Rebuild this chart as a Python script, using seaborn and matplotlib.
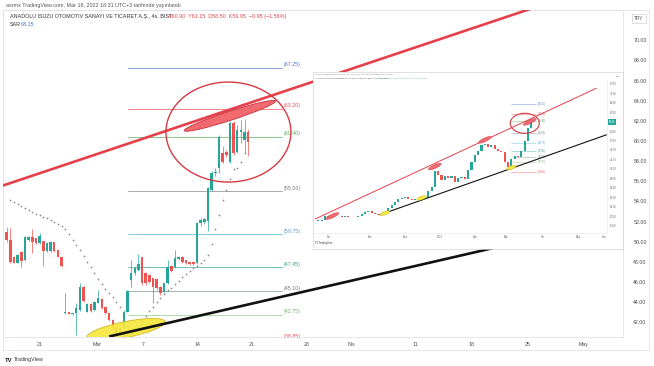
import numpy as np
import matplotlib
matplotlib.use("Agg")
import matplotlib.pyplot as plt
import seaborn as sns
from matplotlib.patches import Ellipse, Rectangle
from matplotlib.transforms import Affine2D, ScaledTranslation

sns.set_theme(style="white")
plt.rcParams['font.family'] = ['Liberation Sans', 'DejaVu Sans']

# ---------------- main 4h chart data ----------------
opens = [51.00, 50.20, 48.50, 47.92, 49.00, 48.20, 50.17, 50.50, 50.34, 49.91,
         50.07, 49.11, 49.11, 49.97, 49.20, 48.45, 42.90, 42.99, 42.82, 42.89,
         43.22, 45.47, 43.06, 43.82, 43.22, 43.95, 44.28, 43.55, 42.89, 42.23,
         41.56, 41.00, 41.56, 43.06, 46.19, 46.85, 47.20, 48.45, 46.85, 46.69,
         46.36, 46.26, 45.54, 45.04, 45.87, 47.59, 47.46, 48.25, 48.52, 48.18,
         47.99, 47.99, 47.92, 51.83, 51.96, 52.10, 55.14, 56.79, 57.29, 58.80,
         58.90, 57.95, 61.76, 58.94, 60.90, 60.10, 60.90]
highs = [51.50, 51.33, 48.60, 48.80, 49.10, 50.60, 50.60, 51.23, 50.40, 50.90,
         50.10, 49.90, 50.10, 50.00, 49.20, 48.50, 44.88, 43.00, 42.95, 43.88,
         45.87, 45.60, 43.90, 43.90, 44.10, 45.20, 44.40, 43.60, 42.90, 42.30,
         41.60, 41.50, 43.20, 45.20, 48.18, 47.50, 48.78, 48.50, 47.00, 46.80,
         46.40, 46.30, 45.60, 45.90, 48.18, 47.70, 49.18, 48.60, 48.60, 48.20,
         48.00, 48.00, 52.00, 52.40, 52.40, 55.40, 57.00, 57.30, 60.60, 59.50,
         59.10, 62.00, 62.00, 61.60, 62.10, 62.20, 61.15]
lows = [50.00, 47.85, 47.85, 47.85, 47.46, 48.10, 50.10, 48.85, 49.80, 49.80,
        47.59, 49.00, 49.00, 49.00, 48.45, 47.46, 42.85, 42.80, 42.75, 40.74,
        43.10, 44.00, 43.00, 43.00, 43.10, 43.90, 43.30, 42.80, 42.10, 41.30,
        40.90, 40.60, 41.30, 43.00, 45.50, 46.70, 47.10, 45.70, 45.70, 45.90,
        43.88, 45.20, 44.70, 44.90, 45.80, 47.00, 47.40, 48.20, 47.90, 47.80,
        47.70, 47.70, 47.80, 51.60, 51.80, 51.10, 55.00, 56.50, 56.80, 57.80,
        58.40, 57.80, 58.60, 58.80, 59.80, 58.80, 58.50]
closes = [50.17, 48.02, 47.92, 48.68, 48.12, 50.44, 50.44, 50.00, 49.91, 50.57,
          49.11, 49.84, 50.00, 49.08, 48.52, 47.59, 42.99, 42.82, 42.88, 43.39,
          45.47, 44.15, 43.82, 43.12, 44.05, 44.38, 43.39, 42.89, 42.23, 41.40,
          41.07, 41.40, 43.06, 45.14, 46.85, 47.36, 47.79, 45.87, 45.87, 46.03,
          45.54, 45.37, 44.88, 45.87, 47.52, 47.13, 48.35, 48.45, 47.99, 47.85,
          47.79, 47.79, 51.83, 52.16, 52.23, 55.30, 56.79, 56.95, 60.43, 57.95,
          58.60, 61.76, 58.78, 61.10, 61.10, 60.90, 59.95]
sar = [np.nan, 54.1, 53.9, 53.7, 53.5, 53.35, 53.15, 52.98, 52.8, 52.65,
       52.5, 52.32, 52.15, 51.95, 51.78, 51.6, 51.3, 50.8, 50.2, 49.7,
       49.2, 48.6, 48.0, 47.5, 46.9, 46.3, 45.8, 45.3, 44.9, 44.5,
       44.0, 43.5, 40.6, 40.7, 40.85, 41.2, 41.6, 42.1, 42.62, 43.1,
       43.55, 44.0, 44.4, 44.8, 45.2, 45.4, 45.77, 46.1, 46.45, 46.8,
       47.1, 47.4, 47.6, 47.85, 48.2, 48.7, 49.8, 51.3, 52.7, 54.1,
       55.1, 56.2, 57.2, 57.3, 57.95, 58.84, 63.15]
bars = list(range(len(closes)))

xtick_pos = [9.1, 24.6, 37.2, 52.1, 66.9, 82.0, 94.2, 111.8, 126.9, 142.3, 157.5]
xtick_labels = ["21", "Mar", "7", "14", "21", "28", "Nis", "11", "18", "25", "May"]
ytick_vals = list(range(42, 71, 2))

fib_prices = [67.25, 63.20, 60.40, 55.00, 50.75, 47.45, 45.10, 42.75]
fib_labels = ["(67.25)", "(63.20)", "(60.40)", "(55.00)", "(50.75)", "(47.45)", "(45.10)", "(42.75)"]
fib_colors = ["#6f8fdc", "#ef6f77", "#76bf78", "#9a9ca3", "#6cc6da", "#5cb7a8", "#93a79a", "#a3d3a0"]
fib_text_colors = ["#4f6fcc", "#e2525b", "#58a85b", "#7b7e86", "#5a9fd0", "#3b9c8c", "#6f7f74", "#72b46e"]
fib_bar_range = [33.1, 75.2]

upper_bar = [-1.0, 150.0]
upper_price = [55.58, 73.96]
lower_bar = [28.0, 132.9]
lower_price = [40.59, 49.37]

# ---------------- inset daily chart data ----------------
inset_close = [17.9, 18.0, 18.4, 20.3, 19.6, 19.8, 19.5, 19.7, 19.6, 19.8,
               19.7, 19.5, 19.8, 20.2, 21.0, 21.6, 22.3, 21.5, 20.9, 20.7,
               21.3, 21.6, 23.5, 24.8, 26.0, 27.2, 27.6, 28.2, 27.3, 26.8,
               27.1, 26.7, 27.2, 27.6, 30.5, 32.5, 39.0, 37.5, 35.5, 36.8,
               36.0, 37.0, 34.6, 36.2, 36.5, 35.8, 39.5, 43.0, 45.8, 47.5,
               50.2, 50.6, 49.4, 50.0, 48.3, 47.5, 47.0, 43.0, 41.0, 44.0,
               45.4, 45.0, 47.6, 52.0, 57.5, 59.9]
inset_open = [17.8] + inset_close[:-1]
inset_idx = list(range(len(inset_close)))
inset_xtick_pos = [4, 16.5, 27, 37.5, 48, 57.5, 68.5, 79, 87]
inset_xtick_labels = ["Eki", "Kas", "Ara", "2022", "Şub", "Mar", "Nis", "May", "Haz"]
inset_ytick_vals = [16, 20, 24, 28, 32, 36, 40, 44, 48, 52, 56, 64, 68, 72, 76]
inset_upper_idx = [0.0, 84.5]
inset_upper_price = [18.8, 74.1]
inset_lower_idx = [19.5, 87.5]
inset_lower_price = [20.6, 54.4]
inset_fib_range = [59.0, 66.5]
inset_red_marks = [(5.2, 20.1), (36.0, 41.0), (51.0, 52.3), (64.5, 59.9)]
inset_yellow_marks = [(21.0, 21.3), (32.0, 27.7), (59.0, 40.6)]

# ---------------- figure ----------------
W, H = 654, 366
fig = plt.figure(figsize=(W / 100, H / 100), dpi=100)
fig.patch.set_facecolor("white")


def box(x0, y0, x1, y1):
    return [x0 / W, 1 - y1 / H, (x1 - x0) / W, (y1 - y0) / H]


def ftext(x, y, s, **kw):
    fig.text(x / W, 1 - y / H, s, **kw)


def px_ellipse(a, cx, cy, w, h, angle, **kw):
    tr = Affine2D() + ScaledTranslation(cx, cy, a.transData)
    e = Ellipse((0, 0), w, h, angle=angle, transform=tr, **kw)
    a.add_patch(e)
    return e


def candles(a, x, o, h, l, c, width, wick_lw, min_h, up="#26a69a", dn="#ef5350", z=3):
    x = np.asarray(x, float); o = np.asarray(o); h = np.asarray(h)
    l = np.asarray(l); c = np.asarray(c)
    cols = np.where(c >= o, up, dn)
    if wick_lw > 0:
        a.vlines(x, l, h, colors=cols, lw=wick_lw, zorder=z)
    a.bar(x, np.maximum(np.abs(c - o), min_h), bottom=np.minimum(o, c),
          width=width, color=cols, linewidth=0, zorder=z + 0.1)


GRID = "#e0e3eb"
# outer panel
bg = fig.add_axes(box(3, 10, 649, 350))
bg.set_xticks([]); bg.set_yticks([])
for s in bg.spines.values():
    s.set_color(GRID); s.set_linewidth(0.6)
bg.set_zorder(0)

ax = fig.add_axes(box(3, 10, 623, 337))
ax.set_zorder(1)
ax.set_facecolor("none")
ax.set_xlim(-1.0, 168.4)
ax.set_ylim(40.54, 73.01)
for s in ax.spines.values():
    s.set_color(GRID); s.set_linewidth(0.6)

# fib levels
for p, lab, col, tcol in zip(fib_prices, fib_labels, fib_colors, fib_text_colors):
    ax.plot(fib_bar_range, [p, p], color=col, lw=0.7, alpha=0.85, zorder=2)
    ax.text(75.7, p + 0.3, lab, color=tcol, fontsize=3.8, va="center", ha="left", zorder=2)
ax.text(75.7, 40.62, "(38.85)", color="#e2525b", fontsize=3.8, va="center", ha="left",
        clip_on=False, zorder=2)

candles(ax, bars, opens, highs, lows, closes, width=0.68, wick_lw=0.5, min_h=0.06)
sns.scatterplot(x=bars, y=sar, ax=ax, s=1.6, color="#8c8c8c", linewidth=0,
                legend=False, zorder=4)

# drawings
ax.plot(upper_bar, upper_price, color="#e5404b", lw=1.9, solid_capstyle="butt", zorder=5)
px_ellipse(ax, 32.6, 41.28, 80, 16, 11.4, facecolor="#f6e63e", edgecolor="#c9b51c",
           lw=0.6, alpha=0.92, zorder=5)
ax.plot(lower_bar, lower_price, color="#111111", lw=1.9, solid_capstyle="butt", zorder=6)
px_ellipse(ax, 60.6, 60.89, 125, 100, 0, facecolor="none", edgecolor="#d63a42",
           lw=1.0, zorder=6)
px_ellipse(ax, 61.0, 62.5, 96, 9, 18.0, facecolor="#f06a70", edgecolor="#c8303a",
           lw=0.6, zorder=6)

ax.yaxis.tick_right()
ax.set_yticks(ytick_vals, [f"{v:.2f}" for v in ytick_vals])
ax.tick_params(axis="y", length=0, pad=7.5, labelsize=3.8, labelcolor="#4a4a4a")
ax.set_xticks(xtick_pos, xtick_labels)
ax.tick_params(axis="x", length=0, pad=3.6, labelsize=3.8, labelcolor="#4a4a4a")
ax.grid(False)

# header texts
ftext(5.7, 5.5, "asrmx TradingView.com, Mar 18, 2022 18:31 UTC+3 tarihinde yayınlandı",
      fontsize=3.9, color="#555555", va="center")
ftext(10, 16.7, "ANADOLU ISUZU OTOMOTIV SANAYI VE TICARET A.Ş., 4s, BIST",
      fontsize=3.9, color="#333333", va="center")
ftext(168, 16.7, "A60.90  Y61.15  D58.50  K59.95  −0.95 (−1.56%)",
      fontsize=3.9, color="#e0474c", va="center")
ftext(10, 24.5, "SAR", fontsize=3.9, color="#333333", va="center")
ftext(20.7, 24.5, "63.15", fontsize=3.9, color="#3a6fd8", va="center")
# TRY box
fig.add_artist(Rectangle((632 / W, 1 - 23 / H), 14 / W, 9 / H, transform=fig.transFigure,
                         facecolor="white", edgecolor="#cfcfcf", lw=0.5))
ftext(639, 18.5, "TRY", fontsize=3.4, color="#555555", va="center", ha="center")
# logo
ftext(5, 360, "TV", fontsize=4.2, color="#131722", va="center", weight="bold")
ftext(13.5, 360, "TradingView", fontsize=3.9, color="#333333", va="center")

# ---------------- inset (pasted daily chart) ----------------
ibg = fig.add_axes(box(313, 72, 623, 249))
ibg.set_zorder(5)
ibg.set_facecolor("white")
ibg.set_xticks([]); ibg.set_yticks([])
for s in ibg.spines.values():
    s.set_color("#d4d4d4"); s.set_linewidth(0.5)

iax = fig.add_axes(box(313, 80, 607, 233))
iax.set_zorder(6)
iax.set_facecolor("none")
iax.set_xlim(-0.6, 87.7)
iax.set_ylim(12.9, 77.6)
for k, s in iax.spines.items():
    s.set_color("#e3e3e3"); s.set_linewidth(0.4)
iax.spines["left"].set_visible(False)
iax.spines["top"].set_visible(False)

for p, lab, col, tcol in zip(fib_prices + [38.85], fib_labels + ["(38.85)"],
                             fib_colors + ["#ef6f77"], fib_text_colors + ["#e2525b"]):
    iax.plot(inset_fib_range, [p, p], color=col, lw=0.4, alpha=0.85, zorder=2)
    iax.text(inset_fib_range[1] + 0.5, p, lab, color=tcol, fontsize=1.8, va="center", zorder=2)

candles(iax, inset_idx, inset_open, inset_close, inset_open, inset_close,
        width=0.62, wick_lw=0, min_h=0.3)
iax.plot(inset_upper_idx, inset_upper_price, color="#e5404b", lw=0.7, zorder=5)
iax.plot(inset_lower_idx, inset_lower_price, color="#111111", lw=0.8, zorder=5)
for (ix, ip) in inset_red_marks:
    px_ellipse(iax, ix, ip, 14, 3.6, 25, facecolor="#f06a70", edgecolor="#c8303a", lw=0.3, zorder=6)
for (ix, ip) in inset_yellow_marks:
    px_ellipse(iax, ix, ip, 10, 3.4, 19, facecolor="#f6e63e", edgecolor="#c9b51c", lw=0.3, zorder=6)
px_ellipse(iax, 63.0, 59.3, 29, 20, 0, facecolor="none", edgecolor="#d63a42", lw=0.8, zorder=7)

iax.yaxis.tick_right()
iax.set_yticks(inset_ytick_vals, [f"{v:.2f}" for v in inset_ytick_vals])
iax.tick_params(axis="y", length=0, pad=2.0, labelsize=1.9, labelcolor="#666666")
iax.set_xticks(inset_xtick_pos, inset_xtick_labels)
iax.tick_params(axis="x", length=0, pad=1.5, labelsize=1.9, labelcolor="#666666")
iax.grid(False)

# inset last price tag
iax.text(1.005, (59.95 - 12.9) / (77.6 - 12.9), "59.95", transform=iax.transAxes,
         fontsize=1.9, color="white", va="center", ha="left", zorder=8,
         bbox=dict(boxstyle="square,pad=0.35", facecolor="#26a69a", edgecolor="none"))
iax.text(1.03, 1.02, "TRY", transform=iax.transAxes, fontsize=1.7, color="#666666",
         va="center", ha="left")

fig.text(315 / W, 1 - 74.2 / H, "asrmx TradingView.com, Mar 17, 2022 18:30 UTC+3 tarihinde yayınlandı",
         fontsize=1.7, color="#777777", va="center", zorder=10)
fig.text(315 / W, 1 - 78 / H, "ANADOLU ISUZU OTOMOTIV SANAYI VE TICARET A.Ş., 1G, BIST",
         fontsize=1.7, color="#444444", va="center", zorder=10)
fig.text(375 / W, 1 - 78 / H, "A56.90  Y62.25  D56.70  K60.90  +4.00 (+7.03%)",
         fontsize=1.7, color="#26a69a", va="center", zorder=10)
fig.text(315 / W, 1 - 243 / H, "TV TradingView", fontsize=1.8, color="#333333",
         va="center", zorder=10)

fig.savefig("out.png", dpi=100, facecolor="white")
